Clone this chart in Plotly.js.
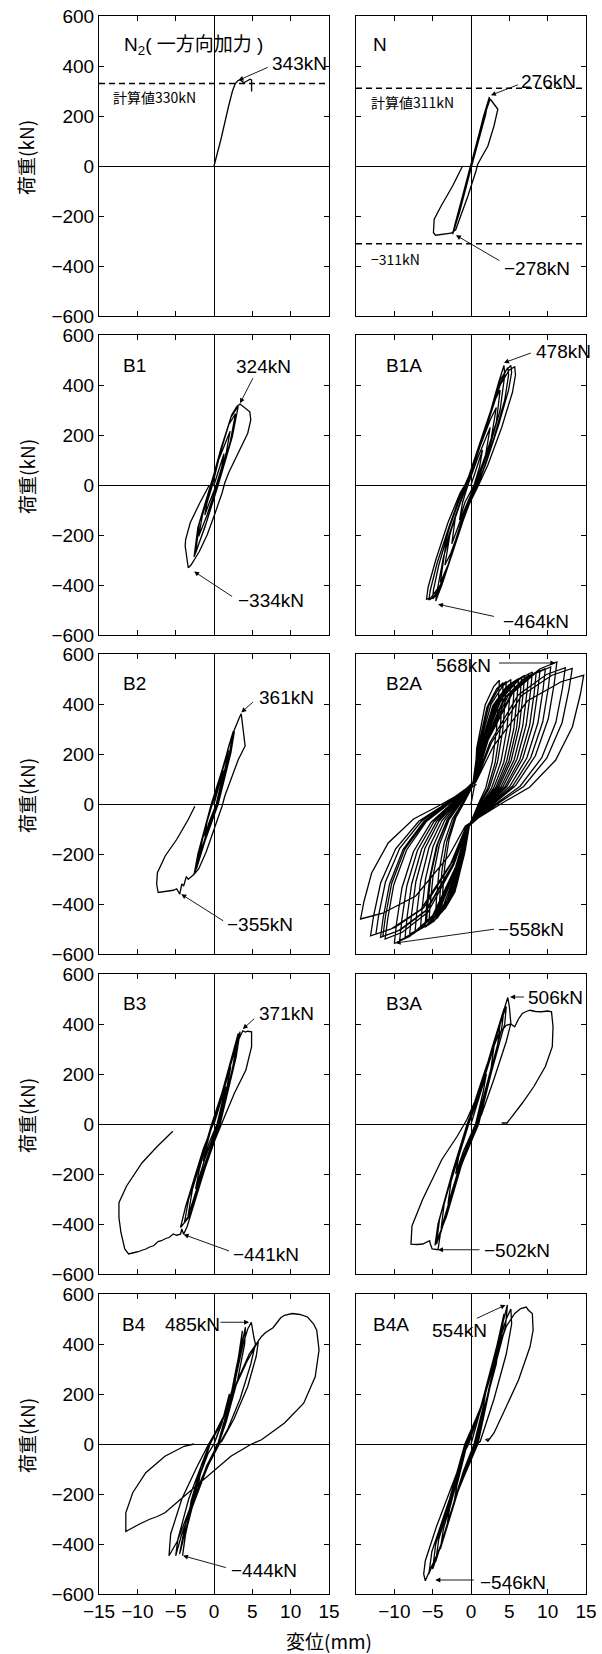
<!DOCTYPE html>
<html><head><meta charset="utf-8">
<script src="https://cdn.plot.ly/plotly-3.0.1.min.js"></script>
<style>body{margin:0;background:#fff}#chart{width:602px;height:1654px}</style>
</head><body><div id="chart"></div>
<script>
// ---------------- data ----------------
const panelNames = ['N<sub>2</sub>( 一方向加力 )','N','B1','B1A','B2','B2A','B3','B3A','B4','B4A'];
const xTickValsLeft = [-15,-10,-5,0,5,10,15];
const xTickTextLeft = ['−15','−10','−5','0','5','10','15'];
const xTickValsRight = [-10,-5,0,5,10,15];
const xTickTextRight = ['−10','−5','0','5','10','15'];
const yTickVals = [-600,-400,-200,0,200,400,600];
const yTickText = ['−600','−400','−200','0','200','400','600'];
const xTitle = '変位(mm)';
const yTitle = '荷重(kN)';

// calculated strength lines (kN)
const calcN2 = [330];
const calcN = [311, -311];
const calcTexts = ['計算値330kN','計算値311kN','−311kN'];

// peak values: [panel index, text, x (mm), y (kN)]
const peaks = [
 [0,'343kN',3.2,343],
 [1,'276kN',2.6,283],[1,'−278kN',-1.96,-277],
 [2,'324kN',3.4,327],[2,'−334kN',-2.6,-346],
 [3,'478kN',4.3,489],[3,'−464kN',-4.3,-477],
 [4,'361kN',3.56,366],[4,'−355kN',-4.26,-361],
 [5,'568kN',11.0,564],[5,'−558kN',-9.83,-556],
 [6,'371kN',3.76,380],[6,'−441kN',-3.96,-442],
 [7,'506kN',5.1,508],[7,'−502kN',-4.3,-503],
 [8,'485kN',4.57,487],[8,'−444kN',-4.04,-447],
 [9,'554kN',4.5,556],[9,'−546kN',-4.65,-544]
];

// load-displacement curves [disp mm, load kN]
const N2 = [[0,0],[0.9,106],[1.9,239],[2.4,299],[2.76,329],[3.1,341],[3.4,345],[3.9,333],[4.3,340],[4.7,347],[4.9,344],[4.9,298]];

const N = [[0,0],[0.5,60],[1.4,170],[2.2,255],[1.9,205],[0.9,90],[0.1,0],[-0.8,-100],[-1.8,-205],[-2.35,-268],[-1.9,-210],[-0.9,-95],[-0.1,0],
[0.8,95],[1.7,200],[2.3,265],[2.0,225],[1.0,110],[0.2,10],[-0.7,-90],[-1.6,-190],[-2.3,-262],[-2.0,-225],[-1.0,-110],[-0.2,-15],
[0.7,85],[1.6,195],[2.4,276],[2.1,235],[1.1,120],[0.3,20],[-0.6,-80],[-1.5,-185],[-2.4,-273],[-2.1,-235],[-1.1,-120],[-0.3,-25],
[0.6,70],[1.5,180],[2.3,250],[2.5,268],[3.26,237],[3.5,227],[3.0,160],[2.2,80],[0.87,7],[0.65,-20],[-0.4,-120],[-1.4,-210],[-2.0,-255],[-2.6,-269],
[-3.5,-273],[-4.6,-277],[-4.9,-267],[-4.8,-213],[-3.9,-160],[-2.4,-80],[-1.1,0]];

const B1 = [[0,0],[0.8,80],[1.3,125],[1.0,70],[0.3,0],[-0.6,-70],[-1.2,-120],[-0.9,-70],[-0.2,0],
[0.6,100],[1.6,180],[2.1,215],[1.6,130],[0.4,0],[-0.9,-120],[-2.0,-205],[-1.5,-120],[-0.3,0],
[0.8,130],[1.9,240],[2.8,285],[2.1,170],[0.5,0],[-1.0,-150],[-2.4,-272],[-1.9,-150],[-0.4,0],
[0.9,145],[2.2,270],[3.16,315],[2.4,195],[0.55,0],[-1.2,-170],[-2.6,-287],[-2.1,-170],[-0.4,0],
[1.0,150],[2.3,280],[3.0,315],[3.4,324],[4.67,293],[4.8,260],[4.4,207],[3.16,127],[1.9,48],[1.4,8],[1.05,-32],[0.15,-112],
[-0.9,-200],[-1.9,-265],[-2.6,-300],[-3.0,-320],[-3.36,-331],[-3.5,-297],[-3.76,-244],[-3.7,-218],[-3.1,-151],[-1.86,-72],[-0.6,0]];

const B1A = [[0,0],[0.8,70],[1.5,140],[1.1,70],[0.4,0],[-0.8,-70],[-1.5,-140],[-1.1,-70],[-0.4,0],
[0.9,110],[2.5,230],[1.9,120],[0.5,0],[-1.0,-110],[-2.5,-235],[-2.0,-120],[-0.5,0],
[1.0,140],[2.5,260],[3.3,310],[2.6,180],[0.6,0],[-1.2,-150],[-2.6,-270],[-3.4,-320],[-2.7,-190],[-0.6,0],
[1.2,160],[2.8,320],[3.8,380],[3.3,250],[1.0,30],[0.4,0],[-1.4,-160],[-3.0,-320],[-4.0,-390],[-3.3,-240],[-1.0,-30],[-0.6,0],
[1.0,150],[2.6,300],[3.6,410],[4.3,478],[4.4,440],[3.8,300],[2.4,150],[0.7,0],[-1.0,-140],[-2.6,-290],[-3.8,-400],[-4.6,-464],[-4.4,-420],[-3.6,-290],[-2.2,-140],[-0.6,0],
[0.9,130],[2.5,290],[3.8,420],[4.8,470],[4.9,440],[4.4,340],[3.0,190],[1.6,60],[0.8,0],[-0.8,-110],[-2.4,-260],[-3.6,-380],[-4.5,-440],[-5.0,-455],[-4.9,-420],[-4.2,-320],[-2.8,-170],[-1.3,-40],[-0.7,0],
[0.6,100],[2.2,260],[3.6,390],[4.6,460],[5.2,478],[5.3,450],[4.9,380],[3.6,240],[2.0,90],[0.9,0],[-0.7,-100],[-2.4,-270],[-3.8,-390],[-4.9,-450],[-5.5,-460],[-5.3,-420],[-4.4,-310],[-2.9,-170],[-1.4,-40],[-0.8,0],
[0.5,90],[2.2,250],[3.8,400],[5.0,460],[5.7,473],[5.8,440],[5.4,370],[4.0,230],[2.2,80],[1.0,0],[-0.6,-100],[-2.5,-280],[-4.0,-400],[-5.2,-450],[-5.8,-457],[-5.6,-410],[-4.6,-300],[-3.0,-150],[-1.4,-30],[-0.8,0],[0.3,60]];

const B2 = [[0,0],[0.7,80],[1.2,135],[0.9,80],[0.3,0],[-0.6,-70],[-1.2,-130],[-0.9,-70],[-0.2,0],
[0.9,110],[1.9,215],[1.5,150],[0.4,0],[-0.9,-110],[-1.9,-210],[-1.5,-140],[-0.3,0],
[1.0,130],[2.5,290],[2.0,200],[0.5,0],[-1.1,-140],[-2.3,-260],[-1.9,-190],[-0.35,0],
[1.0,125],[2.0,240],[2.66,290],[2.2,205],[0.55,0],[-1.2,-150],[-2.6,-282],[-2.1,-200],[-0.35,0],
[1.1,140],[2.3,270],[2.9,320],[3.3,345],[3.55,361],[4.06,232],[3.16,177],[2.16,97],[1.4,31],[1.05,-9],[0.15,-89],[-1.0,-190],[-2.0,-260],[-2.6,-281],
[-3.36,-301],[-3.6,-290],[-3.96,-328],[-4.2,-320],[-4.47,-361],[-4.87,-339],[-5.3,-345],[-5.87,-348],[-6.6,-352],[-7.28,-354],[-7.48,-321],[-7.38,-275],[-6.37,-208],[-4.87,-142],[-3.36,-62],[-2.5,-9]];

const B2A = [[0,0],[0.5,80],
[0.74,223],[1.85,396],[2.96,470],[3.7,495],[3.59,421],[3.33,297],[2.78,168],[1.92,64],[1.11,10],[0.44,-40],[-0.19,-84],
[-0.76,-186],[-1.9,-330],[-3.04,-392],[-3.8,-413],[-3.69,-351],[-3.42,-248],[-2.85,-140],[-1.98,-54],[-1.14,-8],[-0.46,33],[0.19,70],
[0.84,218],[2.1,388],[3.36,461],[4.2,485],[4.07,412],[3.78,291],[3.15,165],[2.18,63],[1.26,10],[0.5,-39],[-0.21,-82],
[-0.84,-198],[-2.1,-352],[-3.36,-418],[-4.2,-440],[-4.07,-374],[-3.78,-264],[-3.15,-150],[-2.18,-57],[-1.26,-9],[-0.5,35],[0.21,75],
[0.92,220],[2.3,392],[3.68,466],[4.6,490],[4.46,417],[4.14,294],[3.45,167],[2.39,64],[1.38,10],[0.55,-39],[-0.23,-83],
[-0.93,-204],[-2.33,-362],[-3.72,-430],[-4.65,-453],[-4.51,-385],[-4.19,-272],[-3.49,-154],[-2.42,-59],[-1.4,-9],[-0.56,36],[0.23,77],
[1.04,224],[2.6,398],[4.16,473],[5.2,498],[5.04,423],[4.68,299],[3.9,169],[2.7,65],[1.56,10],[0.62,-40],[-0.26,-85],
[-1.1,-216],[-2.75,-384],[-4.4,-456],[-5.5,-480],[-5.34,-408],[-4.95,-288],[-4.13,-163],[-2.86,-62],[-1.65,-10],[-0.66,38],[0.28,82],
[1.14,221],[2.85,394],[4.56,467],[5.7,492],[5.53,418],[5.13,295],[4.28,167],[2.96,64],[1.71,10],[0.68,-39],[-0.29,-84],
[-1.16,-212],[-2.9,-376],[-4.64,-447],[-5.8,-470],[-5.63,-400],[-5.22,-282],[-4.35,-160],[-3.02,-61],[-1.74,-9],[-0.7,38],[0.29,80],
[1.24,226],[3.1,402],[4.96,477],[6.2,502],[6.01,427],[5.58,301],[4.65,171],[3.22,65],[1.86,10],[0.74,-40],[-0.31,-85],
[-1.2,-222],[-3.0,-394],[-4.8,-468],[-6.0,-493],[-5.82,-419],[-5.4,-296],[-4.5,-168],[-3.12,-64],[-1.8,-10],[-0.72,39],[0.3,84],
[1.32,227],[3.3,404],[5.28,480],[6.6,505],[6.4,429],[5.94,303],[4.95,172],[3.43,66],[1.98,10],[0.79,-40],[-0.33,-86],
[-1.32,-225],[-3.3,-400],[-5.28,-475],[-6.6,-500],[-6.4,-425],[-5.94,-300],[-4.95,-170],[-3.43,-65],[-1.98,-10],[-0.79,40],[0.33,85],
[1.4,232],[3.5,412],[5.6,489],[7.0,515],[6.79,438],[6.3,309],[5.25,175],[3.64,67],[2.1,10],[0.84,-41],[-0.35,-88],
[-1.46,-231],[-3.65,-410],[-5.84,-487],[-7.3,-513],[-7.08,-436],[-6.57,-308],[-5.48,-174],[-3.8,-67],[-2.19,-10],[-0.88,41],[0.37,87],
[1.5,234],[3.75,416],[6.0,494],[7.5,520],[7.28,442],[6.75,312],[5.63,177],[3.9,68],[2.25,10],[0.9,-42],[-0.38,-88],
[-1.6,-234],[-4.0,-416],[-6.4,-494],[-8.0,-520],[-7.76,-442],[-7.2,-312],[-6.0,-177],[-4.16,-68],[-2.4,-10],[-0.96,42],[0.4,88],
[1.6,238],[4.0,422],[6.4,502],[8.0,528],[7.76,449],[7.2,317],[6.0,180],[4.16,69],[2.4,11],[0.96,-42],[-0.4,-90],
[-1.72,-240],[-4.3,-426],[-6.88,-506],[-8.6,-533],[-8.34,-453],[-7.74,-320],[-6.45,-181],[-4.47,-69],[-2.58,-11],[-1.03,43],[0.43,91],
[1.7,236],[4.25,420],[6.8,499],[8.5,525],[8.25,446],[7.65,315],[6.38,179],[4.42,68],[2.55,11],[1.02,-42],[-0.43,-89],
[-1.86,-245],[-4.65,-436],[-7.44,-518],[-9.3,-545],[-9.02,-463],[-8.37,-327],[-6.98,-185],[-4.84,-71],[-2.79,-11],[-1.12,44],[0.47,93],
[1.8,241],[4.5,428],[7.2,508],[9.0,535],[8.73,455],[8.1,321],[6.75,182],[4.68,70],[2.7,11],[1.08,-43],[-0.45,-91],
[-2.0,-251],[-5.0,-446],[-8.0,-530],[-10.0,-558],[-9.7,-474],[-9.0,-335],[-7.5,-190],[-5.2,-73],[-3.0,-11],[-1.2,45],[0.5,95],
[1.94,244],[4.85,434],[7.76,515],[9.7,542],[9.41,461],[8.73,325],[7.28,184],[5.04,70],[2.91,11],[1.16,-43],[-0.49,-92],
[-2.24,-243],[-5.6,-432],[-8.96,-513],[-11.2,-540],[-10.86,-459],[-10.08,-324],[-8.4,-184],[-5.82,-70],[-3.36,-11],[-1.34,43],[0.56,92],
[2.08,247],[5.2,438],[8.32,521],[10.4,548],[10.09,466],[9.36,329],[7.8,186],[5.41,71],[3.12,11],[1.25,-44],[-0.52,-93],
[-2.3,-239],[-5.75,-424],[-9.2,-504],[-11.5,-530],[-11.16,-451],[-10.35,-318],[-8.63,-180],[-5.98,-69],[-3.45,-11],[-1.38,42],[0.58,90],
[2.24,256],[5.6,454],[8.96,540],[11.2,568],[10.86,483],[10.08,341],[8.4,193],[5.82,74],[3.36,11],[1.34,-45],[-0.56,-97],
[-2.36,-240],[-5.9,-426],[-9.44,-506],[-11.8,-533],[-11.45,-453],[-10.62,-320],[-8.85,-181],[-6.14,-69],[-3.54,-11],[-1.42,43],[0.59,91],
[2.46,245],[6.15,436],[9.84,518],[12.3,545],[11.93,463],[11.07,327],[9.23,185],[6.4,71],[3.69,11],[1.48,-44],[-0.62,-93],
[-2.48,-234],[-6.2,-416],[-9.92,-494],[-12.4,-520],[-12.03,-442],[-11.16,-312],[-9.3,-177],[-6.45,-68],[-3.72,-10],[-1.49,42],[0.62,88],
[2.64,244],[6.6,434],[10.56,515],[13.2,542],[12.8,461],[11.88,325],[9.9,184],[6.86,70],[3.96,11],[1.58,-43],[-0.66,-92],
[-2.62,-237],[-6.55,-422],[-10.48,-501],[-13.1,-527],[-12.71,-448],[-11.79,-316],[-9.83,-179],[-6.81,-69],[-3.93,-11],[-1.57,42],[0.66,90],
[2.94,232],[7.35,412],[11.76,489],[14.7,515],[14.26,438],[13.23,309],[11.03,175],[7.64,67],[4.41,10],[1.76,-41],[-0.74,-88],
[-2.88,-207],[-7.2,-368],[-11.52,-437],[-14.4,-460],[-13.97,-391],[-12.96,-276],[-10.8,-156],[-7.49,-60],[-4.32,-9],[-1.73,37],[0.72,78]];

const B3 = [[0,0],[0.8,80],[1.5,150],[1.1,90],[0.4,0],[-0.7,-80],[-1.4,-150],[-1.0,-90],[-0.2,0],
[1.0,110],[2.2,230],[1.7,150],[0.5,0],[-1.2,-140],[-2.4,-260],[-1.9,-180],[-0.3,0],
[1.1,130],[2.3,250],[2.9,310],[2.4,220],[0.6,0],[-1.3,-170],[-2.8,-320],[-3.4,-370],[-2.8,-260],[-0.3,0],
[1.0,120],[2.4,270],[3.16,362],[2.7,260],[0.7,0],[-1.4,-190],[-3.0,-350],[-3.86,-394],[-3.3,-300],[-1.2,-90],[-0.2,0],
[1.2,140],[2.6,290],[3.4,369],[2.9,270],[0.8,0],[-1.5,-200],[-3.2,-370],[-4.37,-414],[-3.7,-330],[-1.4,-100],[-0.1,0],
[1.3,150],[2.7,300],[3.4,350],[3.76,373],[4.1,368],[4.4,371],[4.9,369],[4.9,309],[4.16,216],[2.66,123],[1.4,31],[0.9,-9],[0.15,-62],
[-1.2,-180],[-2.6,-320],[-3.5,-410],[-3.96,-441],[-4.2,-420],[-4.37,-441],[-4.9,-445],[-5.3,-440],[-5.87,-454],[-6.3,-458],[-6.87,-467],[-7.3,-470],
[-7.88,-487],[-8.4,-492],[-8.88,-500],[-9.4,-505],[-9.88,-511],[-10.5,-515],[-11.14,-520],[-11.64,-500],[-12.14,-434],[-12.4,-374],[-12.4,-315],
[-11.4,-248],[-9.38,-155],[-7.38,-89],[-5.37,-29]];

const B3A = [[0,0],[1.0,100],[2.0,200],[1.6,130],[0.6,0],[-1.0,-110],[-2.0,-200],[-1.6,-130],[-0.3,0],
[1.0,110],[2.2,230],[3.0,310],[2.6,220],[0.7,0],[-1.2,-140],[-2.4,-260],[-3.0,-320],[-2.6,-230],[-0.4,0],
[1.0,120],[2.5,270],[3.8,400],[3.4,300],[1.8,120],[0.8,0],[-1.3,-150],[-2.9,-320],[-3.9,-420],[-3.5,-320],[-1.8,-130],[-0.5,0],
[1.1,130],[2.7,300],[4.3,460],[4.0,380],[2.3,180],[0.9,0],[-1.3,-160],[-3.1,-350],[-4.5,-480],[-4.1,-380],[-2.2,-170],[-0.5,0],
[1.2,140],[3.0,330],[4.6,470],[4.4,400],[2.6,200],[1.0,0],[-1.2,-160],[-3.2,-370],[-4.7,-485],[-4.3,-400],[-2.4,-190],[-0.5,0],
[1.3,150],[3.2,350],[4.5,470],[4.8,506],[5.0,470],[5.2,402],[4.6,330],[3.0,180],[1.4,40],[0.8,0],[-1.3,-170],[-3.0,-340],[-4.0,-440],[-4.3,-503],
[-5.07,-500],[-5.3,-480],[-5.4,-467],[-6.3,-480],[-7.0,-482],[-7.83,-481],[-7.7,-408],[-6.3,-301],[-3.8,-142],[-1.8,-49],[-0.55,17],[0.5,90],
[2.0,230],[3.6,360],[4.6,395],[5.2,400],[5.7,389],[6.2,420],[6.7,442],[7.2,450],[7.7,455],[8.4,450],[9.2,449],[10.0,452],[10.5,449],
[10.7,389],[10.6,309],[9.7,230],[8.2,150],[6.7,84],[5.2,24],[4.7,4],[4.0,4]];

const B4 = [[0,0],[1.0,80],[2.0,200],[1.6,120],[0.5,0],[-1.0,-90],[-2.2,-200],[-1.8,-120],[-0.5,0],
[1.2,100],[2.3,210],[3.0,320],[2.6,220],[1.4,80],[0.5,0],[-1.1,-100],[-2.4,-200],[-3.4,-320],[-3.0,-230],[-1.6,-80],[-0.5,0],
[1.2,100],[2.4,220],[3.2,350],[3.7,453],[3.5,380],[2.7,240],[1.4,80],[0.6,0],[-1.2,-110],[-2.6,-230],[-3.6,-330],[-4.1,-447],[-3.7,-360],[-2.7,-220],[-1.4,-80],[-0.5,0],
[1.3,110],[2.6,240],[3.5,380],[4.1,467],[4.0,400],[3.1,260],[1.6,90],[0.6,0],[-1.3,-120],[-2.9,-250],[-4.2,-360],[-5.0,-447],[-4.7,-380],[-3.3,-220],[-1.6,-80],[-0.6,0],
[1.4,120],[2.8,260],[3.8,400],[4.4,460],[4.87,487],[5.0,460],[5.2,427],[5.4,400],[4.8,320],[3.4,180],[1.8,60],[0.7,0],[-1.5,-130],[-3.3,-270],[-4.8,-390],[-5.87,-447],[-5.65,-360],[-4.2,-220],[-2.2,-90],[-0.7,0],
[1.2,100],[2.8,230],[4.3,330],[5.2,380],[5.8,413],[5.5,350],[4.4,230],[2.6,100],[1.0,10],[0.4,0],[-1.2,-120],[-2.8,-250],[-3.8,-350],[-4.3,-420],[-4.5,-440],
[-3.8,-330],[-2.4,-170],[-0.8,-40],[0,0],[1.4,120],[3.0,250],[4.6,360],[5.5,400],[5.8,413],[6.2,430],[6.7,445],[7.2,455],[7.7,465],[8.2,485],[8.7,505],[9.2,515],
[10.2,522],[11.2,518],[12.2,508],[13.0,480],[13.4,455],[13.7,376],[13.2,269],[11.7,163],[9.2,84],[6.2,17],[4.9,0],[2.2,-49],[0.2,-102],[-1.9,-155],[-3.9,-208],
[-5.0,-240],[-6.4,-275],[-7.4,-290],[-8.4,-301],[-9.7,-320],[-10.9,-341],[-11.5,-350],[-11.5,-275],[-10.6,-195],[-8.9,-115],[-6.4,-49],[-3.9,-9],[-2.6,0]];

const B4A = [[0,0],[1.0,110],[2.0,220],[1.6,150],[0.4,0],[-1.0,-110],[-2.2,-230],[-1.8,-160],[-0.5,0],
[1.1,120],[2.2,240],[3.0,320],[2.5,230],[1.2,90],[0.5,0],[-1.2,-130],[-2.4,-250],[-3.2,-340],[-2.8,-260],[-1.5,-110],[-0.6,0],
[1.2,130],[2.6,280],[3.6,400],[3.3,320],[1.8,150],[0.6,0],[-1.3,-140],[-2.8,-290],[-4.0,-420],[-3.6,-340],[-2.0,-170],[-0.6,0],
[1.2,140],[2.8,310],[4.0,470],[3.7,380],[2.2,200],[0.7,0],[-1.4,-150],[-3.2,-330],[-4.6,-470],[-4.2,-380],[-2.3,-190],[-0.7,0],
[1.3,150],[3.0,340],[4.3,520],[4.0,430],[2.4,230],[0.8,0],[-1.5,-170],[-3.4,-360],[-5.0,-500],[-4.6,-400],[-2.6,-210],[-0.7,0],
[1.3,150],[3.1,360],[4.75,556],[4.5,470],[2.7,260],[0.9,0],[-1.6,-180],[-3.6,-380],[-5.5,-520],[-5.1,-430],[-2.8,-220],[-0.8,0],
[1.2,140],[3.2,360],[4.6,500],[5.2,540],[5.3,480],[4.6,360],[3.0,180],[1.2,10],[0.8,0],[-1.7,-190],[-3.8,-400],[-5.3,-500],[-5.96,-547],[-6.17,-520],[-5.96,-467],
[-4.5,-330],[-2.6,-180],[-0.8,-30],[-0.3,0],[1.0,120],[3.0,330],[4.6,470],[5.7,522],[6.5,542],[7.2,548],[7.5,535],[8.0,522],[8.1,455],[7.7,389],[6.2,256],
[4.2,123],[3.0,44],[2.2,11],[1.96,17],[2.3,22]];

const curves = [N2, N, B1, B1A, B2, B2A, B3, B3A, B4, B4A];

// ---------------- layout (positions & styles) ----------------
const W = 602, H = 1654;
const colX = [[99,329],[356,586]];
const rowTop = [16,335,654,974,1294];
const rowH = 300;
const FONT = "'Liberation Sans', Arial, 'Noto Sans CJK JP', sans-serif";
const CJK = "'Noto Sans CJK JP', 'Liberation Sans', sans-serif";

// label placements in data coords: [textLeftX, textY, tailX, tailY]
const peakLabelPos = [
 [7.3,411,7.2,397],
 [6.3,340,6.3,327],[4.1,-411,3.9,-382],
 [2.66,476,5.17,433],[2.91,-463,2.56,-450],
 [8.2,536,8.0,530],[3.95,-544,3.2,-527],
 [5.65,427,5.27,413],[1.4,-481,1.4,-471],
 [-4.8,556,3.46,564],[3.2,-501,3.2,-500],
 [5.67,442,5.42,426],[2.16,-520,2.16,-510],
 [7.2,508,7.1,508],[1.45,-507,1.3,-503],
 [-6.7,477,0.65,487],[1.96,-507,1.74,-496],
 [-5.3,456,0.57,500],[0.95,-553,0.57,-544]
];
const namePos = [[-12.0,480],[-13.0,487],[-12.1,480],[-11.3,480],[-12.1,483],[-11.3,483],[-12.1,482],[-11.3,482],[-12.2,480],[-13.1,477]];
const calcTextPos = [[0,-13.4,275],[1,-13.3,256],[1,-13.3,-373]];

const ax = i => i === 0 ? '' : String(i+1);
const traces = [];
curves.forEach((pts, i) => {
  traces.push({type:'scatter', mode:'lines', x: pts.map(p=>p[0]), y: pts.map(p=>p[1]),
    xaxis:'x'+ax(i), yaxis:'y'+ax(i), line:{color:'#000', width:1.3}, hoverinfo:'skip', showlegend:false});
});
const dashed = [[0,calcN2[0]],[1,calcN[0]],[1,calcN[1]]];
dashed.forEach(([i,v]) => {
  traces.push({type:'scatter', mode:'lines', x:[-15,15], y:[v,v], xaxis:'x'+ax(i), yaxis:'y'+ax(i),
    line:{color:'#000', width:1.3, dash:'6px,4px'}, hoverinfo:'skip', showlegend:false});
});

const layout = {width:W, height:H, margin:{l:0,r:0,t:0,b:0}, paper_bgcolor:'#fff', plot_bgcolor:'#fff',
  showlegend:false, font:{family:FONT, size:19, color:'#000'}, annotations:[]};

for (let i = 0; i < 10; i++) {
  const r = Math.floor(i/2), c = i % 2;
  const common = {showline:true, linecolor:'#000', linewidth:1, mirror:'ticks', ticks:'inside', ticklen:5,
    tickwidth:1, tickcolor:'#000', showgrid:false, zeroline:true, zerolinecolor:'#000', zerolinewidth:1,
    fixedrange:true, tickfont:{family:FONT, size:19, color:'#000'}};
  layout['xaxis'+ax(i)] = Object.assign({}, common, {
    domain:[colX[c][0]/W, colX[c][1]/W], range:[-15,15], anchor:'y'+ax(i),
    tickmode:'array', tickvals: c === 0 ? xTickValsLeft : xTickValsRight,
    ticktext: c === 0 ? xTickTextLeft : xTickTextRight, showticklabels: r === 4});
  layout['yaxis'+ax(i)] = Object.assign({}, common, {
    domain:[(H-rowTop[r]-rowH)/H, (H-rowTop[r])/H], range:[-600,600], anchor:'x'+ax(i),
    tickmode:'array', tickvals:yTickVals, ticktext:yTickText, showticklabels: c === 0});
  layout.annotations.push({xref:'x'+ax(i), yref:'y'+ax(i), x:namePos[i][0], y:namePos[i][1],
    text:panelNames[i], showarrow:false, xanchor:'left', yanchor:'middle', font:{family:FONT, size:19}});
}

peaks.forEach((p, k) => {
  const [i, txt, px, py] = p; const pos = peakLabelPos[k];
  layout.annotations.push({xref:'x'+ax(i), yref:'y'+ax(i), x:pos[0], y:pos[1], text:txt, showarrow:false,
    xanchor:'left', yanchor:'middle', font:{family:FONT, size:19}});
  layout.annotations.push({xref:'x'+ax(i), yref:'y'+ax(i), x:px, y:py, axref:'x'+ax(i), ayref:'y'+ax(i),
    ax:pos[2], ay:pos[3], text:'', showarrow:true, arrowhead:2, arrowsize:1.1, arrowwidth:0.9, arrowcolor:'#000', standoff:0});
});
calcTextPos.forEach((p, k) => {
  layout.annotations.push({xref:'x'+ax(p[0]), yref:'y'+ax(p[0]), x:p[1], y:p[2], text:calcTexts[k], showarrow:false,
    xanchor:'left', yanchor:'middle', font:{family:CJK, size:14}});
});
for (let r = 0; r < 5; r++) {
  layout.annotations.push({xref:'paper', yref:'paper', x:26/W, y:(H-(rowTop[r]+rowH/2-8))/H, text:yTitle,
    textangle:-90, showarrow:false, xanchor:'center', yanchor:'middle', font:{family:CJK, size:19}});
}
layout.annotations.push({xref:'paper', yref:'paper', x:329/W, y:(H-1640)/H, text:xTitle, showarrow:false,
  xanchor:'center', yanchor:'middle', font:{family:CJK, size:19}});

Plotly.newPlot('chart', traces, layout, {staticPlot:true, displayModeBar:false});
</script></body></html>
